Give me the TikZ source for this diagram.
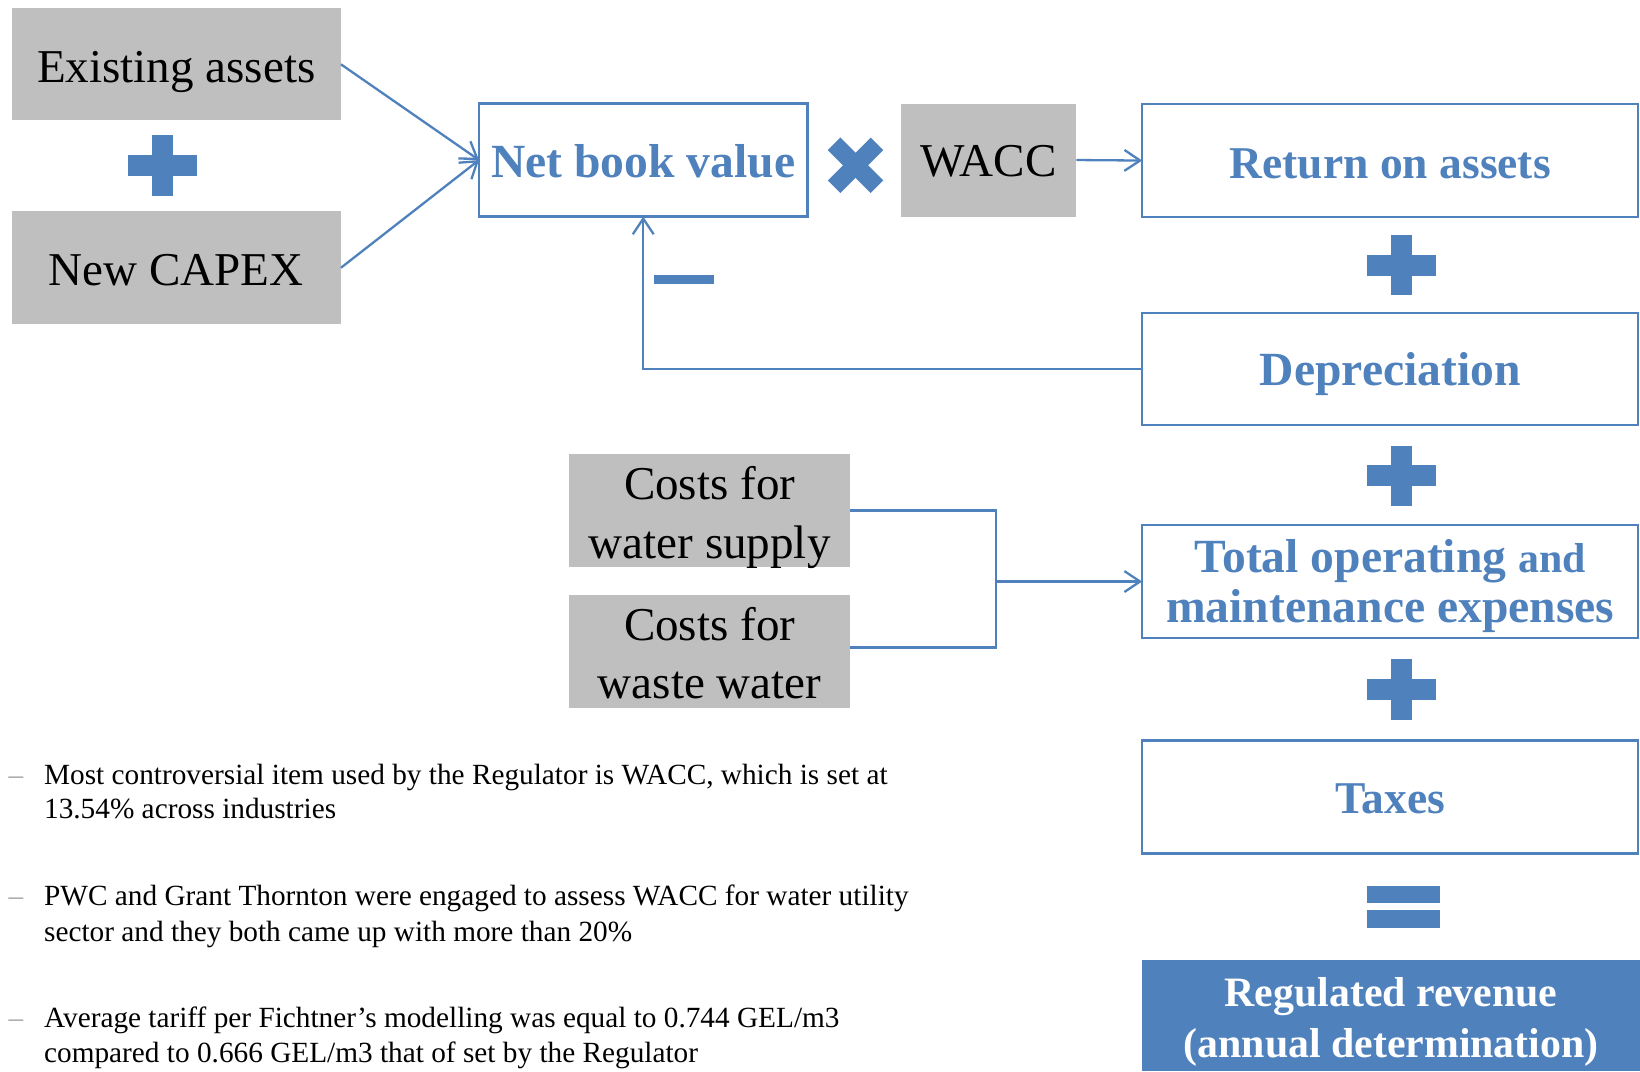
\documentclass[tikz,border=0pt]{standalone}
\usepackage{fontspec}
\setmainfont{Liberation Serif}
\usetikzlibrary{arrows.meta}
\definecolor{accblue}{HTML}{4F81BD}
\definecolor{boxgray}{HTML}{BFBFBF}
\definecolor{dashgray}{HTML}{A6A6A6}
\newcommand\plusglyph[2]{%
  \fill[sym] (#1-33,#2-10) rectangle (#1+33,#2+10);
  \fill[sym] (#1-10,#2-29) rectangle (#1+10,#2+29);}
\begin{document}
\begin{tikzpicture}[x=1pt,y=-1pt,
  graybox/.style={fill=boxgray, draw=none, inner sep=0pt, outer sep=0pt},
  bluebox/.style={fill=white, draw=accblue, line width=2.1pt, inner sep=0pt, outer sep=0pt},
  revbox/.style={fill=accblue, draw=none, inner sep=0pt, outer sep=0pt},
  lbl/.style={inner sep=0pt, anchor=base, text=black, font=\fontsize{45}{54}\selectfont},
  blbl/.style={inner sep=0pt, anchor=base, text=accblue, font=\fontsize{#1}{54}\selectfont\bfseries},
  wlbl/.style={inner sep=0pt, anchor=base, text=white, font=\fontsize{40}{48}\selectfont\bfseries},
  conn/.style={draw=accblue, line width=2.2pt},
  arr/.style={conn, -{Straight Barb[length=15pt,width=20pt,line width=2.2pt]}},
  sym/.style={fill=accblue},
  btxt/.style={inner sep=0pt, anchor=base west, font=\fontsize{28}{34}\selectfont},
  dashn/.style={inner sep=0pt, anchor=base west, text=dashgray, font=\fontsize{28}{34}\selectfont},
]
\useasboundingbox (0,0) rectangle (1568,1024);

% left inputs
\node[graybox, minimum width=315pt, minimum height=107pt] (exist) at (168.5,61.5) {};
\node[lbl] (existT) at (168.5,79) {Existing assets};
\node[graybox, minimum width=315pt, minimum height=108pt] (capex) at (168.5,256) {};
\node[lbl] (capexT) at (168.5,273) {New CAPEX};
\plusglyph{155}{158}

% net book value and wacc
\node[bluebox, minimum width=314pt, minimum height=108pt] (net) at (615,153) {};
\node[blbl=45.5] (netT) at (615,170) {Net book value};
\draw[accblue, line width=17pt] (797.5,137.5) -- (838.5,178.5);
\draw[accblue, line width=17pt] (797.5,178.5) -- (838.5,137.5);
\node[graybox, minimum width=168pt, minimum height=108pt] (wacc) at (945,153) {};
\node[lbl] (waccT) at (945,169) {WACC};
\fill[sym] (625,263) rectangle (683,272);

% right column
\node[bluebox, minimum width=474pt, minimum height=107.5pt] (roa) at (1329,153.5) {};
\node[blbl=43.5] (roaT) at (1329.25,171) {Return on assets};
\plusglyph{1340}{253.5}
\node[bluebox, minimum width=474pt, minimum height=107pt] (dep) at (1329,352.5) {};
\node[blbl=45.5] (depT) at (1329.25,369) {Depreciation};
\plusglyph{1340}{455}
\node[bluebox, minimum width=474pt, minimum height=108pt] (tom) at (1329,556) {};
\node[blbl=45.5] (tomT1) at (1329.25,547) {Total operating {\fontsize{40}{48}\selectfont and}};
\node[blbl=45.5] (tomT2) at (1329.25,595) {maintenance expenses};
\plusglyph{1340}{659}
\node[bluebox, minimum width=474pt, minimum height=108pt] (tax) at (1329,762) {};
\node[blbl=43.5] (taxT) at (1329.25,778) {Taxes};
\fill[sym] (1307,847) rectangle (1377,863);
\fill[sym] (1307,870) rectangle (1377,887);
\node[revbox, minimum width=476pt, minimum height=106pt] (rev) at (1330,971) {};
\node[wlbl] (revT1) at (1330,962.5) {Regulated revenue};
\node[wlbl] (revT2) at (1330,1011) {(annual determination)};

% costs
\node[graybox, minimum width=269pt, minimum height=108pt] (cws) at (678.5,488) {};
\node[lbl] (cwsT1) at (678.5,478) {Costs for};
\node[lbl] (cwsT2) at (678.5,534) {water supply};
\node[graybox, minimum width=269pt, minimum height=108pt] (cww) at (678.5,623) {};
\node[lbl] (cwwT1) at (678.5,612) {Costs for};
\node[lbl] (cwwT2) at (678.5,668) {waste water};
\coordinate (jx) at (952,556);

% connectors
\draw[arr] (exist.east) -- (net.west);
\draw[arr] (capex.east) -- (net.west);
\draw[arr] (wacc.east) -- (roa.west);
\draw[arr] (dep.west) -| (net.south);
\draw[conn] (cws.east) -| (jx) |- ([yshift=4pt]cww.east);
\draw[arr] (jx) -- (tom.west);

% bullets
\node[dashn] (d1) at (8,750) {–};
\node[btxt] (b1a) at (42,750) {Most controversial item used by the Regulator is WACC, which is set at};
\node[btxt] (b1b) at (42,783) {13.54\% across industries};
\node[dashn] (d2) at (8,866) {–};
\node[btxt] (b2a) at (42,866) {PWC and Grant Thornton were engaged to assess WACC for water utility};
\node[btxt] (b2b) at (42,900) {sector and they both came up with more than 20\%};
\node[dashn] (d3) at (8,982) {–};
\node[btxt] (b3a) at (42,982) {Average tariff per Fichtner’s modelling was equal to 0.744 GEL/m3};
\node[btxt] (b3b) at (42,1016) {compared to 0.666 GEL/m3 that of set by the Regulator};
\end{tikzpicture}
\end{document}
